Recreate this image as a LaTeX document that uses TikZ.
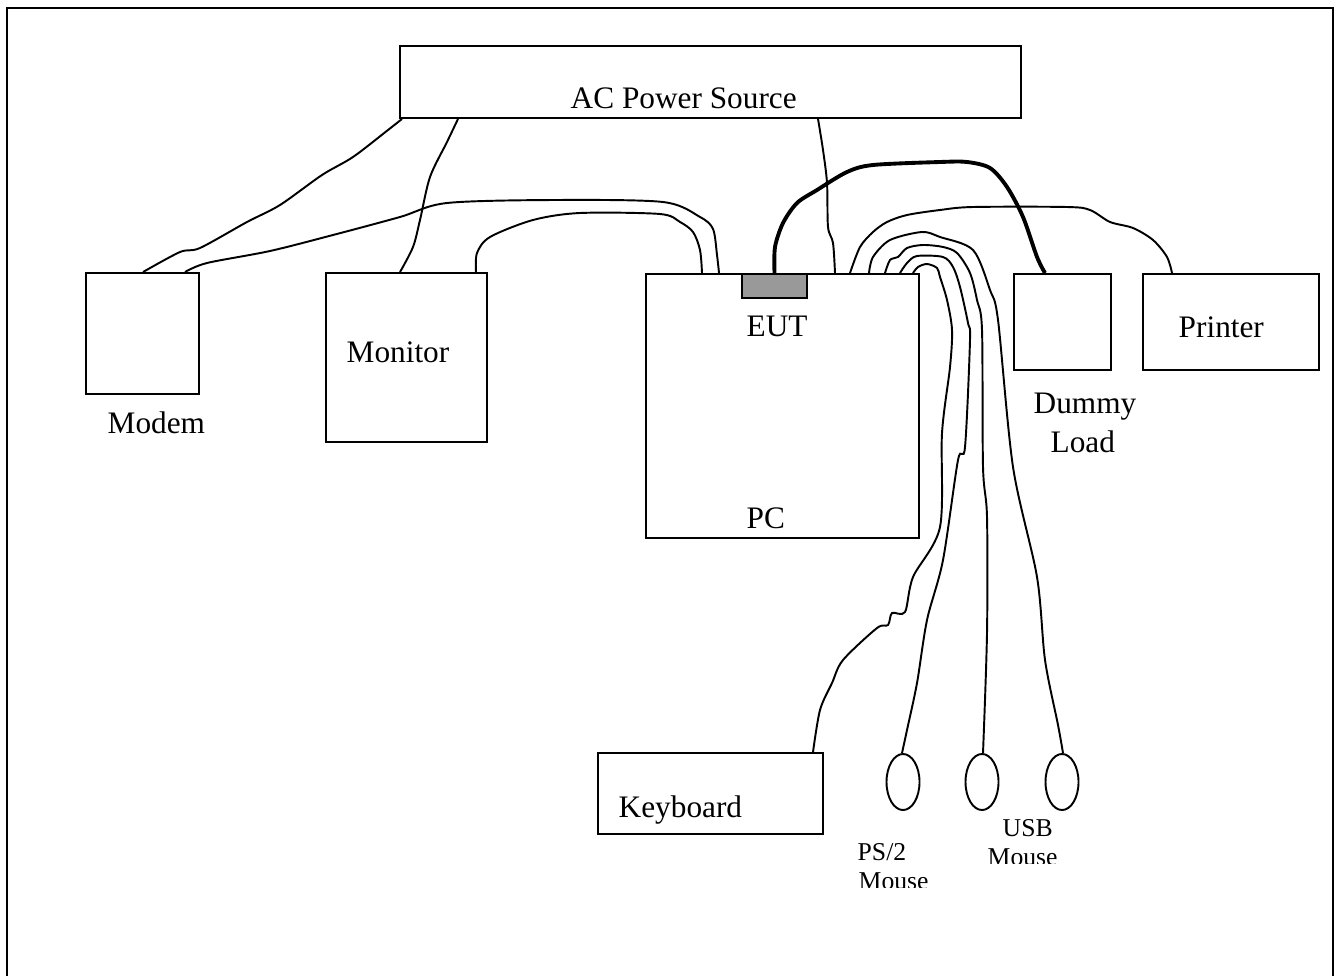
\documentclass[tikz,border=0pt]{standalone}
\usepackage{fontspec}
\setmainfont{Liberation Serif}
\usetikzlibrary{fit,shapes.geometric}
\definecolor{eutgray}{RGB}{153,153,153}
\begin{document}
\begin{tikzpicture}[x=0.01cm,y=-0.01cm,
  box/.style={draw, line width=0.55pt, inner sep=0pt},
  lbl/.style={inner sep=0pt, anchor=base west, font=\fontsize{8.9}{10.7}\selectfont},
  slbl/.style={inner sep=0pt, anchor=base west, font=\fontsize{7.3}{8.2}\selectfont},
  cable/.style={line width=0.55pt},
  thickcable/.style={line width=1.1pt},
  mousebox/.style={draw, ellipse, line width=0.55pt, minimum width=0.33cm, minimum height=0.56cm, inner sep=0pt},
  frameline/.style={line width=0.65pt}]
\useasboundingbox (0,0) rectangle (1337,976);
\draw[frameline] (7,976) -- (7,8) -- (1333,8) -- (1333,976);

% boxes
\node[box, fit={(400,46) (1021,118)}] (ac) {};
\node[box, fit={(86,273) (199,394)}] (modem) {};
\node[box, fit={(326,273) (487,442)}] (monitor) {};
\node[box, fit={(646,274) (919,538)}] (pc) {};
\node[box, fill=eutgray, fit={(742,274) (807,298)}] (eut) {};
\node[box, fit={(1014,274) (1111,370)}] (dummy) {};
\node[box, fit={(1143,274) (1319,370)}] (printer) {};
\node[box, fit={(598,753) (823,834)}] (keyboard) {};
\node[mousebox] (ps2) at (903,782) {};
\node[mousebox] (usba) at (982,782) {};
\node[mousebox] (usbb) at (1062,782) {};

% labels
\node[lbl] (aclbl) at (570,109) {AC Power Source};
\node[lbl] (modemlbl) at (107,433) {Modem};
\node[lbl] (monitorlbl) at (346,362) {Monitor};
\node[lbl] (eutlbl) at (746,336) {EUT};
\node[lbl] (pclbl) at (746,528) {PC};
\node[lbl] (dummylbl) at (1033,413) {Dummy};
\node[lbl] (loadlbl) at (1050,452) {Load};
\node[lbl] (printerlbl) at (1178,337) {Printer};
\node[lbl] (kblbl) at (618,817) {Keyboard};
\begin{scope}
\clip (840,830) rectangle (960,887);
\node[slbl] (ps2lbl) at (857,860) {PS/2};
\node[slbl] (ps2lblb) at (858,889) {Mouse};
\end{scope}
\begin{scope}
\clip (970,800) rectangle (1080,863);
\node[slbl] (usblbl) at (1002,836) {USB};
\node[slbl] (usblblb) at (987,865) {Mouse};
\end{scope}

% cables
\draw[cable] plot[smooth, tension=0.5] coordinates {(402,0 |- ac.south) (388,130) (353,157) (322,175) (280,205) (247,222) (200,248) (180,252) (143,0 |- modem.north)};
\draw[cable] plot[smooth, tension=0.5] coordinates {(185,0 |- modem.north) (207,263) (270,251) (333,235) (400,217) (447,203) (555,200) (663,202) (700,217) (713,229) (717,255) (719,0 |- pc.north)};
\draw[cable] plot[smooth, tension=0.5] coordinates {(458,0 |- ac.south) (447,142) (430,177) (420,220) (413,247) (400,0 |- monitor.north)};
\draw[cable] plot[smooth, tension=0.5] coordinates {(476,0 |- monitor.north) (477,253) (490,237) (533,220) (580,213) (660,214) (680,222) (693,232) (700,250) (702,0 |- pc.north)};
\draw[cable] plot[smooth, tension=0.5] coordinates {(818,0 |- ac.south) (823,150) (827,183) (828,227) (833,243) (835,0 |- pc.north)};
\draw[thickcable] plot[smooth, tension=0.5] coordinates {(eut.north) (775,247) (783,223) (797,203) (817,190) (847,172) (873,165) (940,162) (967,162) (990,168) (1007,187) (1023,217) (1037,257) (1045,0 |- dummy.north)};
\draw[cable] plot[smooth, tension=0.5] coordinates {(850,0 |- pc.north) (860,247) (873,232) (887,222) (907,215) (940,210) (973,207) (1067,207) (1090,210) (1110,222) (1133,228) (1153,240) (1167,257) (1172,0 |- printer.north)};
\draw[cable] plot[smooth, tension=0.5] coordinates {(869,0 |- pc.north) (873,257) (890,240) (922,232) (940,237) (973,250) (990,290) (998,320) (1013,467) (1037,577) (1045,660) (1058,725) (1063,0 |- usbb.north)};
\draw[cable] plot[smooth, tension=0.5] coordinates {(885,0 |- pc.north) (890,260) (898,257) (907,248) (923,245) (943,247) (957,253) (970,273) (977,300) (982,330) (983,467) (987,517) (987,633) (983,0 |- usba.north)};
\draw[cable] plot[smooth, tension=0.5] coordinates {(900,0 |- pc.north) (907,263) (917,256) (943,257) (953,267) (960,287) (968,323) (970,340) (965,447) (958,460) (943,560) (927,620) (917,683) (907,730) (902,0 |- ps2.north)};
\draw[cable] plot[smooth, tension=0.5] coordinates {(913,0 |- pc.north) (918,267) (927,264) (937,268) (940,277) (947,300) (952,330) (950,367) (942,433) (940,527) (913,577) (905,612) (892,613) (888,625) (877,628) (843,660) (832,683) (820,710) (813,0 |- keyboard.north)};
\end{tikzpicture}
\end{document}
